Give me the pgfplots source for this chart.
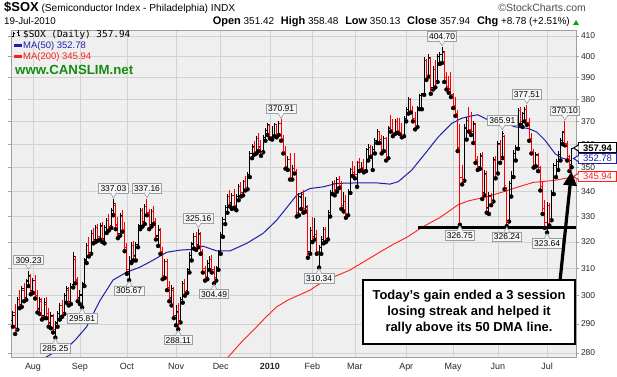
\documentclass[border=0pt]{standalone}
\usepackage{pgfplots}
\pgfplotsset{compat=1.18}
\usepackage{pgfplotstable}
\usetikzlibrary{arrows.meta}
\usepackage{fontspec}
\setmainfont{Liberation Sans}
\newfontfamily\monofont{DejaVu Sans Mono}

\definecolor{bggray}{RGB}{239,239,239}
\definecolor{gridgray}{RGB}{210,210,210}
\definecolor{bordergray}{RGB}{160,160,160}
\definecolor{labfill}{RGB}{246,246,246}
\definecolor{labborder}{RGB}{150,162,162}
\definecolor{maBlue}{RGB}{30,30,170}
\definecolor{maRed}{RGB}{255,30,30}
\definecolor{barRed}{RGB}{255,0,0}
\definecolor{csGreen}{RGB}{20,140,20}
\definecolor{upGreen}{RGB}{0,170,0}

\pgfdeclareplotmark{ltick}{\pgfpathmoveto{\pgfqpoint{-1.7pt}{0pt}}\pgfpathlineto{\pgfqpoint{0pt}{0pt}}\pgfusepathqstroke}
\pgfdeclareplotmark{rtick}{\pgfpathmoveto{\pgfqpoint{0pt}{0pt}}\pgfpathlineto{\pgfqpoint{1.7pt}{0pt}}\pgfusepathqstroke}

\tikzset{lab/.style={draw=labborder, fill=labfill, line width=0.6bp, inner xsep=1.8bp, inner ysep=1.7bp, text height=6.2bp, text depth=0bp, font=\fontsize{8.5}{8.5}\selectfont}}

\newcommand{\hlab}[2]{%
  \node[lab, anchor=south] at ([yshift=5.5bp]axis cs:#1,#2) {#2};
  \filldraw[fill=labfill, draw=labborder, line width=0.6bp] ([xshift=-3bp,yshift=6.1bp]axis cs:#1,#2) -- ([yshift=1bp]axis cs:#1,#2) -- ([xshift=3bp,yshift=6.1bp]axis cs:#1,#2);
}
\newcommand{\llab}[2]{%
  \node[lab, anchor=north] at ([yshift=-5.5bp]axis cs:#1,#2) {#2};
  \filldraw[fill=labfill, draw=labborder, line width=0.6bp] ([xshift=-3bp,yshift=-6.1bp]axis cs:#1,#2) -- ([yshift=-1bp]axis cs:#1,#2) -- ([xshift=3bp,yshift=-6.1bp]axis cs:#1,#2);
}

\pgfplotstableread{
i o h l c r
2 291.0 294.5 289.0 293.0 0
3 294.0 297.0 286.5 288.0 1
4 288.5 299.5 288.0 298.5 0
5 298.5 302.0 295.5 296.5 1
6 297.0 303.5 296.0 302.5 0
7 302.0 304.5 298.0 299.0 1
8 299.5 306.0 298.5 305.0 0
9 305.5 309.23 303.5 307.5 0
10 307.0 308.0 300.5 301.5 1
11 302.0 306.5 301.0 305.5 0
12 305.5 307.5 299.0 300.0 1
13 300.0 302.0 294.0 295.0 1
14 295.5 299.5 293.5 298.5 0
15 298.0 299.0 291.5 292.5 1
16 293.0 299.0 292.0 297.5 0
17 297.0 299.5 292.0 293.5 1
18 293.5 295.5 289.0 290.0 1
19 290.5 294.0 288.5 293.0 0
20 292.5 293.5 287.0 288.0 1
21 287.5 291.0 285.25 290.0 0
22 290.5 294.5 289.0 293.5 0
23 293.5 297.5 291.5 296.5 0
24 296.5 298.5 292.5 293.5 1
25 294.0 301.0 293.5 300.0 0
26 300.0 303.5 297.5 302.5 0
27 302.0 303.0 296.5 297.5 1
28 298.0 304.5 297.0 303.5 0
29 304.0 316.0 303.0 314.5 0
30 313.5 314.5 304.5 306.0 1
31 305.5 307.0 298.0 299.0 1
32 299.5 302.0 297.0 300.5 0
33 300.0 305.0 295.81 304.0 0
34 304.5 314.0 303.5 313.0 0
35 313.5 319.5 312.0 318.5 0
36 318.5 322.0 314.5 315.5 1
37 316.0 324.5 315.5 323.5 0
38 323.5 325.5 319.5 320.5 1
39 321.0 326.5 320.0 325.5 0
40 325.5 327.0 320.5 322.0 1
41 322.0 327.5 321.0 326.5 0
42 326.0 328.0 320.0 321.0 1
43 321.5 326.5 319.5 325.5 0
44 325.5 329.5 323.5 328.5 0
45 328.5 331.0 324.5 326.0 1
46 326.5 333.5 325.5 332.5 0
47 332.5 337.03 330.5 335.0 0
48 334.5 335.5 325.0 326.5 1
49 327.0 330.0 321.5 323.0 1
50 323.5 331.5 322.5 330.5 0
51 330.0 332.5 324.0 325.0 1
52 325.0 328.0 316.5 318.0 1
53 318.0 319.5 308.0 309.5 1
54 309.0 314.5 305.67 313.0 0
55 313.0 320.0 312.0 318.5 0
56 318.5 320.5 313.0 314.5 1
57 315.0 320.0 313.0 319.0 0
58 319.0 327.0 318.0 326.0 0
59 326.5 333.5 325.0 332.5 0
60 332.5 333.5 326.0 327.5 1
61 328.0 335.0 327.0 334.0 0
62 334.0 337.16 330.5 331.5 1
63 331.0 333.0 325.0 326.5 1
64 327.0 333.0 326.0 332.0 0
65 332.0 334.0 327.0 328.0 1
66 328.0 329.5 321.0 322.0 1
67 322.5 326.5 318.5 325.0 0
68 324.5 325.5 315.5 316.5 1
69 316.5 318.0 306.0 307.5 1
70 307.5 313.5 306.5 312.5 0
71 312.5 313.5 302.0 303.0 1
72 303.0 305.5 298.0 299.0 1
73 299.5 304.0 296.5 302.5 0
74 302.0 303.0 292.0 293.0 1
75 293.0 296.5 289.5 294.5 0
76 294.0 297.5 288.11 290.5 1
77 291.0 299.5 290.5 298.5 0
78 298.5 305.5 297.5 304.5 0
79 304.5 306.0 300.0 301.5 1
80 302.0 310.0 301.0 309.0 0
81 309.5 316.0 308.5 315.0 0
82 315.0 320.0 313.0 319.0 0
83 319.5 323.5 317.5 322.0 0
84 322.0 324.0 317.0 318.5 1
85 319.0 325.16 318.0 323.5 0
86 323.0 324.0 315.5 316.5 1
87 316.5 317.5 308.5 310.0 1
88 310.0 311.0 305.5 307.0 1
89 307.0 313.0 306.0 312.0 0
90 312.0 314.5 309.5 313.5 0
91 313.5 315.0 308.5 309.5 1
92 309.5 311.0 304.49 306.5 1
93 306.5 311.0 305.5 310.0 0
94 310.5 317.0 309.5 316.0 0
95 316.5 324.0 315.5 323.0 0
96 323.0 330.0 322.0 329.0 0
97 329.0 334.5 327.0 333.5 0
98 333.5 339.0 331.5 338.0 0
99 338.0 340.5 334.0 335.0 1
100 335.5 339.5 333.0 338.5 0
101 338.5 341.0 333.5 334.5 1
102 334.5 339.0 332.5 338.0 0
103 338.0 343.0 336.5 342.0 0
104 342.0 344.0 338.0 339.5 1
105 339.5 345.0 338.5 344.0 0
106 344.0 346.5 340.5 341.5 1
107 341.5 348.0 341.0 347.0 0
108 347.0 357.0 346.0 356.0 0
109 356.0 360.0 354.0 359.0 0
110 358.5 361.5 355.5 357.0 1
111 357.0 363.5 356.0 362.5 0
112 362.5 365.0 357.0 358.5 1
113 359.0 362.0 355.0 356.5 1
114 357.0 364.0 356.5 363.0 0
115 363.0 367.0 361.5 366.0 0
116 366.0 369.5 364.0 368.5 0
117 368.0 369.0 362.5 363.5 1
118 363.5 368.0 362.0 364.0 0
119 364.0 369.5 363.5 368.5 0
120 368.5 369.0 363.0 364.5 1
121 364.5 370.0 364.0 369.0 0
122 369.0 370.91 361.5 362.5 1
123 362.5 364.0 356.0 357.0 1
124 357.0 359.0 349.5 350.5 1
125 350.5 355.0 349.0 353.5 0
126 353.5 356.0 345.0 346.0 1
127 346.0 351.0 345.0 349.5 0
128 349.5 356.0 347.5 348.5 1
129 348.5 349.5 330.0 331.5 1
130 331.5 339.5 330.5 338.0 0
131 337.5 340.0 333.0 339.0 0
132 339.0 340.5 331.5 333.0 1
133 333.0 338.0 332.0 334.0 0
134 333.5 334.5 314.0 316.0 1
135 316.5 326.0 315.5 324.5 0
136 324.5 330.0 320.0 321.5 1
137 322.0 329.5 321.0 323.0 0
138 323.0 324.5 315.5 316.5 1
139 316.5 319.0 310.34 318.0 0
140 318.0 322.5 315.5 321.0 0
141 321.0 326.0 319.5 325.0 0
142 325.0 326.0 320.0 321.0 1
143 321.5 332.5 321.0 331.5 0
144 331.5 340.5 330.0 339.5 0
145 339.5 344.5 339.0 343.5 0
146 343.5 345.0 338.5 341.0 1
147 341.0 346.0 340.0 345.0 0
148 345.0 346.5 341.5 342.5 1
149 342.5 344.5 333.0 334.5 1
150 334.5 340.0 332.0 336.0 0
151 336.0 338.5 329.5 331.0 1
152 331.0 341.0 330.5 340.0 0
153 340.0 350.0 339.5 349.0 0
154 349.0 353.0 346.5 348.0 1
155 348.0 350.5 345.5 347.0 1
156 347.0 353.0 342.0 352.0 0
157 352.0 354.0 348.5 349.5 1
158 349.5 352.5 349.0 350.0 0
159 350.0 353.5 348.0 349.0 1
160 349.0 358.5 348.5 357.5 0
161 357.5 360.0 353.0 358.5 0
162 358.5 359.5 354.5 355.5 1
163 355.5 359.0 349.0 357.5 0
164 357.5 362.5 356.0 361.5 0
165 361.5 366.5 360.5 365.5 0
166 365.5 366.0 360.5 362.0 1
167 362.0 364.0 356.0 357.5 1
168 357.5 363.5 357.0 362.5 0
169 362.5 363.0 353.0 354.5 1
170 354.5 368.0 354.0 367.0 0
171 367.5 373.0 365.5 366.5 1
172 366.5 371.0 363.5 365.0 1
173 365.0 371.0 364.5 370.0 0
174 370.0 371.5 365.0 366.0 1
175 366.0 371.5 364.5 365.0 1
176 365.0 369.5 363.0 364.0 1
177 364.0 372.5 363.5 371.5 0
178 371.5 376.5 370.0 375.5 0
179 375.5 381.0 373.5 380.0 0
180 380.0 380.5 374.0 375.0 1
181 375.0 377.0 370.0 371.5 1
182 371.5 374.0 366.5 368.0 1
183 368.0 377.0 367.5 376.0 0
184 376.0 382.5 375.5 381.5 0
185 381.5 383.0 375.5 382.0 0
186 382.5 400.0 382.0 398.0 0
187 398.0 399.0 389.0 391.0 1
188 391.0 401.0 390.5 399.5 0
189 399.0 400.0 382.5 385.0 1
190 385.5 395.5 384.5 394.0 0
191 394.0 398.5 385.5 388.0 1
192 388.5 401.0 388.0 400.0 0
193 400.0 402.0 396.5 401.0 0
194 401.0 404.70 397.0 402.5 0
195 402.0 402.5 388.0 390.0 1
196 390.0 392.5 384.5 386.0 1
197 386.0 391.0 383.0 384.5 1
198 385.0 392.5 381.0 382.0 1
199 382.0 383.0 376.0 377.0 1
200 377.0 381.0 372.5 373.5 1
201 373.5 375.0 357.0 358.5 1
202 358.0 369.0 326.75 346.0 1
203 346.0 351.0 343.0 344.5 1
204 345.0 369.0 344.5 367.5 0
205 367.0 372.0 362.0 370.5 0
206 370.5 376.5 365.5 366.5 1
207 366.5 374.0 364.0 365.5 1
208 365.5 370.0 360.5 369.0 0
209 368.5 369.5 352.0 353.5 1
210 353.0 355.0 349.0 350.5 1
211 350.5 356.0 349.5 355.0 0
212 354.5 356.5 337.0 339.0 1
213 339.5 349.0 338.5 347.5 0
214 347.0 348.5 331.5 333.0 1
215 333.5 340.0 331.0 338.5 0
216 338.0 339.5 334.5 336.0 1
217 336.5 354.5 336.0 353.5 0
218 353.0 355.0 345.5 347.0 1
219 348.0 361.5 347.5 360.5 0
220 360.0 362.0 352.0 354.0 1
221 354.5 365.91 354.0 364.5 0
222 363.5 364.0 341.0 342.5 1
223 341.0 342.0 326.24 328.0 1
224 328.5 344.5 328.0 343.5 0
225 343.5 348.5 338.0 346.5 0
226 346.5 357.5 346.0 356.0 0
227 356.0 359.5 353.0 358.5 0
228 358.5 376.0 358.0 375.0 0
229 375.0 376.5 368.5 370.0 1
230 370.0 374.0 367.5 373.5 0
231 373.5 376.5 370.0 375.5 0
232 375.5 377.51 368.5 369.5 1
233 369.5 371.5 361.5 362.5 1
234 362.5 365.0 356.0 357.0 1
235 357.0 358.0 350.0 351.5 1
236 351.5 356.5 350.5 355.5 0
237 355.0 356.0 348.5 350.0 1
238 350.0 350.5 340.5 342.0 1
239 342.0 344.5 331.0 333.0 1
240 333.0 336.5 325.5 327.5 1
241 327.5 336.0 323.64 334.5 0
242 334.5 335.5 326.5 328.5 1
243 329.0 340.5 328.5 339.5 0
244 339.5 352.0 339.0 351.0 0
245 351.0 353.5 346.0 352.5 0
246 352.5 357.0 349.0 355.5 0
247 355.5 362.5 353.0 361.5 0
248 361.5 366.0 360.0 365.0 0
249 365.5 370.10 359.5 360.5 1
250 360.0 361.5 353.0 354.5 1
251 354.0 355.5 348.5 349.16 1
252 351.42 358.48 350.13 357.94 0
}\sox

\begin{document}
\begin{tikzpicture}
\useasboundingbox (0,0) rectangle (617bp,377bp);
\fill[white] (0,0) rectangle (617bp,377bp);
\begin{axis}[
  at={(11bp,20bp)}, anchor=south west,
  scale only axis, width=565bp, height=327bp,
  ymode=log, ymin=278.7, ymax=413,
  xmin=1.16, xmax=253.95,
  axis background/.style={fill=bggray},
  axis line style={draw=bordergray, line width=0.8bp},
  grid=major, major grid style={draw=gridgray, line width=0.6bp},
  xtick={11,32,53,75,95,117,136,155,178,199,219,241},
  xticklabels={Aug,Sep,Oct,Nov,Dec,\textbf{2010},Feb,Mar,Apr,May,Jun,Jul},
  ytick={280,290,300,310,320,330,340,350,360,370,380,390,400,410},
  yticklabels={280,290,300,310,320,330,340,350,360,370,380,390,400,410},
  yticklabel pos=right,
  tick align=outside, major tick length=3bp,
  xtick style={draw=none},
  ytick style={draw=bordergray, line width=0.6bp},
  minor tick style={draw=none},
  yticklabel style={font=\fontsize{8.5}{8.5}\selectfont, text=black!85, xshift=-1.5bp},
  xticklabel style={font=\fontsize{9}{9}\selectfont, text=black!85},
  clip mode=individual,
]
% MA lines
\addplot[maRed, line width=0.9bp, mark=none] coordinates {
(96,277.8) (98.4,278.7) (104,283.5) (109.6,287.8) (115,292.2) (120,296.0) (125,298.4) (130.5,300.4) (134.9,302.0) (139.4,304.4) (146,307.0) (152.8,309.4) (160,313.0) (167.7,316.9) (173,319.5) (178.2,321.8) (185.6,326.0) (193.1,329.6) (201.2,334.7) (206,336.3) (212.5,337.6) (218,339.0) (223,340.4) (229,342.2) (234.9,343.8) (243.8,344.6) (252,345.94)
};
\addplot[maBlue, line width=1bp, mark=none] coordinates {
(15,277.8) (20,280.0) (26.1,281.6) (30,284.5) (35,289.0) (41,298.3) (46.8,305.7) (52.9,308.6) (58.9,310.5) (64.7,313.1) (70.8,316.1) (76.8,316.9) (82.6,317.2) (87.1,318.4) (93.2,316.6) (99.1,316.6) (106.6,319.5) (114,323.4) (120,328.5) (124.5,333.5) (129,338.6) (134.9,341.3) (140.8,342.0) (146.9,343.4) (155.8,343.6) (164.8,343.6) (170.7,343.1) (174.4,344.1) (180.4,348.9) (186.4,355.9) (192.3,363.1) (198.3,369.1) (202.8,371.4) (207.3,372.5) (210,373.0) (214.7,370.6) (220.7,369.9) (226.6,367.6) (232.6,366.9) (236.4,365.3) (240.1,361.7) (244.6,355.9) (247.5,354.1) (252,352.78)
};
% up bars (black)
\addplot[only marks, mark=none, restrict expr to domain={\thisrow{r}}{-0.5:0.5},
  error bars/.cd, y dir=plus, y explicit, error mark=none,
  error bar style={draw=black, line width=1bp}]
  table[x=i, y=l, y error plus expr=\thisrow{h}-\thisrow{l}] {\sox};
\addplot[only marks, mark=ltick, mark options={draw=black, line width=1bp}, restrict expr to domain={\thisrow{r}}{-0.5:0.5}] table[x=i, y=o] {\sox};
\addplot[only marks, mark=rtick, mark options={draw=black, line width=1bp}, restrict expr to domain={\thisrow{r}}{-0.5:0.5}] table[x=i, y=c] {\sox};
% down bars (red)
\addplot[only marks, mark=none, restrict expr to domain={\thisrow{r}}{0.5:1.5},
  error bars/.cd, y dir=plus, y explicit, error mark=none,
  error bar style={draw=barRed, line width=1bp}]
  table[x=i, y=l, y error plus expr=\thisrow{h}-\thisrow{l}] {\sox};
\addplot[only marks, mark=ltick, mark options={draw=barRed, line width=1bp}, restrict expr to domain={\thisrow{r}}{0.5:1.5}] table[x=i, y=o] {\sox};
\addplot[only marks, mark=rtick, mark options={draw=barRed, line width=1bp}, restrict expr to domain={\thisrow{r}}{0.5:1.5}] table[x=i, y=c] {\sox};
% support line
\addplot[black, line width=2.6bp, mark=none] coordinates {(183.3,325.6) (253.95,325.6)};
% labels
\hlab{9}{309.23}
\llab{21}{285.25}
\llab{33}{295.81}
\hlab{47}{337.03}
\llab{54}{305.67}
\hlab{62}{337.16}
\llab{76}{288.11}
\hlab{85}{325.16}
\llab{92}{304.49}
\hlab{122}{370.91}
\llab{139}{310.34}
\hlab{194}{404.70}
\llab{202}{326.75}
\hlab{221}{365.91}
\llab{223}{326.24}
\hlab{232}{377.51}
\llab{241}{323.64}
\hlab{249}{370.10}
\end{axis}

% header
\node[anchor=base west, inner sep=0] at (4bp,365.5bp) {{\fontsize{13}{13}\selectfont\bfseries \$SOX} {\fontsize{10.2}{10.2}\selectfont (Semiconductor Index - Philadelphia) INDX}};
\node[anchor=base east, inner sep=0, text=black!70] at (586bp,365.5bp) {\fontsize{10.5}{10.5}\selectfont \textcopyright StockCharts.com};
\node[anchor=base west, inner sep=0] at (4bp,352bp) {\fontsize{9.8}{9.8}\selectfont 19-Jul-2010};
\node[anchor=base east, inner sep=0] at (570bp,352bp) {\fontsize{10}{10}\selectfont {\fontsize{11}{11}\selectfont\bfseries Open} 351.42\hspace{4bp} {\fontsize{11}{11}\selectfont\bfseries High} 358.48\hspace{4bp} {\fontsize{11}{11}\selectfont\bfseries Low} 350.13\hspace{4bp} {\fontsize{11}{11}\selectfont\bfseries Close} 357.94\hspace{4bp} {\fontsize{11}{11}\selectfont\bfseries Chg} +8.78 (+2.51\%)};
\fill[upGreen] (573bp,352bp) -- (579bp,352bp) -- (576bp,357bp) -- cycle;

% in-plot legend
\draw[black, line width=0.8bp] (13.5bp,339.5bp) -- (13.5bp,345bp) (12bp,341bp) -- (13.5bp,341bp) (13.5bp,344bp) -- (15bp,344bp);
\draw[black, line width=0.8bp] (18bp,340.5bp) -- (18bp,346.5bp) (16.5bp,345bp) -- (18bp,345bp) (18bp,342bp) -- (19.5bp,342bp);
\node[anchor=base west, inner sep=0] at (23bp,339.7bp) {\monofont\fontsize{9.4}{9.4}\selectfont \$SOX (Daily) 357.94};
\draw[maBlue, line width=2.4bp] (14bp,331.5bp) -- (22bp,331.5bp);
\node[anchor=base west, inner sep=0, text=maBlue] at (23bp,328bp) {\fontsize{9.5}{9.5}\selectfont MA(50) 352.78};
\draw[maRed, line width=2.4bp] (14bp,320.5bp) -- (22bp,320.5bp);
\node[anchor=base west, inner sep=0, text=maRed] at (23bp,317bp) {\fontsize{9.5}{9.5}\selectfont MA(200) 345.94};
\node[anchor=base west, inner sep=0, text=csGreen] at (15bp,302bp) {\fontsize{13.3}{13.3}\selectfont\bfseries www.CANSLIM.net};

% right-side value boxes
\node[draw=black, line width=1bp, fill=white, anchor=west, minimum width=38bp, minimum height=10bp, inner sep=0, font=\fontsize{9.5}{9.5}\selectfont\bfseries] (b1) at (578bp,229bp) {357.94};
\filldraw[fill=white, draw=black, line width=1bp] (578.5bp,232bp) -- (573.5bp,229bp) -- (578.5bp,226bp);
\node[draw=maBlue, line width=1bp, fill=white, anchor=west, minimum width=38bp, minimum height=10bp, inner sep=0, text=maBlue, font=\fontsize{9.5}{9.5}\selectfont] (b2) at (578bp,218.5bp) {352.78};
\filldraw[fill=white, draw=maBlue, line width=1bp] (578.5bp,221.5bp) -- (573.5bp,218.5bp) -- (578.5bp,215.5bp);
\node[draw=maRed, line width=1bp, fill=white, anchor=west, minimum width=38bp, minimum height=10bp, inner sep=0, text=maRed, font=\fontsize{9.5}{9.5}\selectfont] (b3) at (578bp,200.5bp) {345.94};
\filldraw[fill=white, draw=maRed, line width=1bp] (578.5bp,203.5bp) -- (573.5bp,200.5bp) -- (578.5bp,197.5bp);

% annotation
\draw[black, line width=3.2bp, -{Triangle[length=14bp, width=13bp]}] (560bp,96bp) -- (571.5bp,205.5bp);
\node[draw=black, line width=2bp, fill=white, minimum width=212bp, minimum height=64bp, inner sep=0, align=center, font=\fontsize{13}{15.8}\selectfont\bfseries] at (469bp,65bp) {Today's gain ended a 3 session\\losing streak and helped it\\rally above its 50 DMA line.};
\end{tikzpicture}
\end{document}
